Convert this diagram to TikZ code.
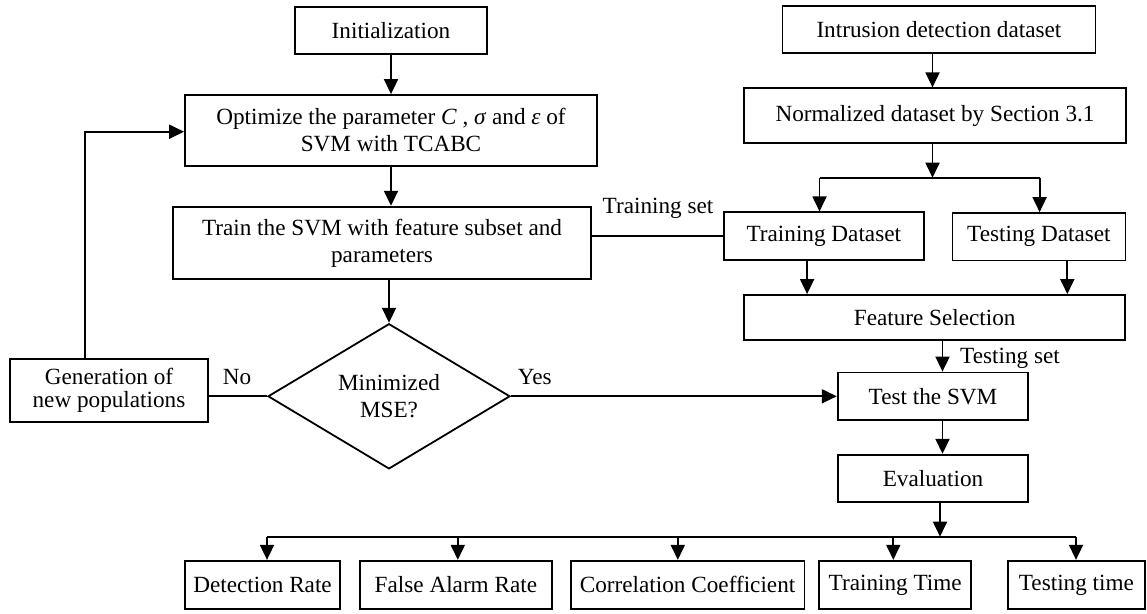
\documentclass[tikz,border=0pt]{standalone}
\usepackage{fontspec}
\setmainfont{Liberation Serif}
\usetikzlibrary{arrows.meta,shapes.geometric}
\begin{document}
\begin{tikzpicture}[x=1pt,y=-1pt,
  box/.style={draw, line width=1.8pt, inner sep=0pt, align=center, font=\fontsize{23.2}{27}\selectfont},
  dia/.style={draw, shape=diamond, line width=1.8pt, inner sep=0pt, align=center, font=\fontsize{23.2}{27}\selectfont},
  arr/.style={line width=1.8pt, -{Triangle[length=15pt,width=14pt]}},
  ln/.style={line width=1.8pt},
  lbl/.style={inner sep=0pt, anchor=base, font=\fontsize{23.2}{27}\selectfont}]
\useasboundingbox (0,0) rectangle (1147,613);

% left column
\node[box, minimum width=192, minimum height=47.6] (init) at (391,30.5) {Initialization};
\node[box, minimum width=412, minimum height=71] (opt) at (391,130.5)
  {Optimize the parameter \textit{C} , \textit{σ} and \textit{ε} of\\SVM with TCABC};
\node[box, minimum width=418, minimum height=72.6] (train) at (382,243)
  {Train the SVM with feature subset and\\parameters};
\node[dia, minimum width=242, minimum height=137] (dec) at (389,396.3) {Minimized\\MSE?};
\node[box, minimum width=198, minimum height=62.4, font=\fontsize{23.2}{22.5}\selectfont] (gen) at (109,390.5)
  {Generation of\\new populations};

% right column
\node[box, minimum width=313, minimum height=47.6] (intr) at (938.9,29.5) {Intrusion detection dataset};
\node[box, minimum width=381.4, minimum height=54.4] (norm) at (935,115.5) {Normalized dataset by Section 3.1};
\node[box, minimum width=200.3, minimum height=47.7] (trd) at (823.8,236.2) {Training Dataset};
\node[box, minimum width=173, minimum height=47.5] (ted) at (1038.9,236.8) {Testing Dataset};
\node[box, minimum width=380.7, minimum height=45] (fs) at (934.7,317.5) {Feature Selection};
\node[box, minimum width=190.6, minimum height=47.8] (test) at (933,396.4) {Test the SVM};
\node[box, minimum width=190.6, minimum height=47.6] (eval) at (933,478.5) {Evaluation};

% bottom row
\node[box, minimum width=155, minimum height=48.3] (dr) at (262.5,584.9) {Detection Rate};
\node[box, minimum width=191.7, minimum height=48.3] (far) at (455.9,584.9) {False Alarm Rate};
\node[box, minimum width=233.8, minimum height=48.3] (cc) at (687.6,584.9) {Correlation Coefficient};
\node[box, minimum width=151.7, minimum height=48.3] (tt) at (895.2,584.9) {Training Time};
\node[box, minimum width=137.3, minimum height=48.3] (tst) at (1076.4,584.9) {Testing time};

% labels
\node[lbl] (ltrs) at (658,213) {Training set};
\node[lbl] (ltes) at (1010,363) {Testing set};
\node[lbl] (lno) at (237,384.7) {No};
\node[lbl] (lyes) at (534.7,384.7) {Yes};

% coordinates
\coordinate (fb) at (85,131.7);
\coordinate (sp) at (932.5,177.7);
\coordinate (sl) at (819.5,177.7);
\coordinate (sr) at (1039.6,177.7);
\coordinate (ax) at (942.5,0);
\coordinate (bus) at (940,536.7);
\coordinate (b1) at (267,536.7);
\coordinate (b2) at (457.8,536.7);
\coordinate (b3) at (677.8,536.7);
\coordinate (b4) at (893.3,536.7);
\coordinate (b5) at (1076,536.7);

% left connectors
\draw[arr] (init.south) -- (opt.north);
\draw[arr] (opt.south) -- (opt.south |- train.north);
\draw[arr] (dec.north |- train.south) -- (dec.north);
\draw[ln] (dec.west) -- (dec.west -| gen.east);
\draw[arr] (gen.north -| fb) -- (fb) -- (fb -| opt.west);
\draw[arr] (dec.east) -- (dec.east -| test.west);
\draw[ln] (trd.west -| train.east) -- (trd.west);

% right connectors
\draw[arr] (sp |- intr.south) -- (sp |- norm.north);
\draw[arr] (sp |- norm.south) -- (sp);
\draw[ln] (sl) -- (sr);
\draw[arr] (sl) -- (sl |- trd.north);
\draw[arr] (sr) -- (sr |- ted.north);
\draw[arr] ([xshift=-16.7pt]trd.south) -- ([xshift=-16.7pt]trd.south |- fs.north);
\draw[arr] ([xshift=28.4pt]ted.south) -- ([xshift=28.4pt]ted.south |- fs.north);
\draw[arr] (fs.south -| ax) -- (test.north -| ax);
\draw[arr] (test.south -| ax) -- (eval.north -| ax);
\draw[arr] (eval.south -| bus) -- (bus);

% bottom bus
\draw[ln] (b1) -- (b5);
\draw[arr] (b1) -- (b1 |- dr.north);
\draw[arr] (b2) -- (b2 |- far.north);
\draw[arr] (b3) -- (b3 |- cc.north);
\draw[arr] (b4) -- (b4 |- tt.north);
\draw[arr] (b5) -- (b5 |- tst.north);
\end{tikzpicture}
\end{document}
